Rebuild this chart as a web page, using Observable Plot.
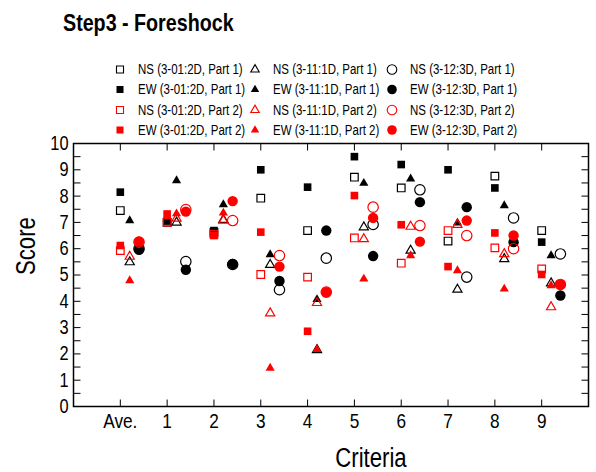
<!DOCTYPE html>
<html><head><meta charset="utf-8">
<script src="https://cdn.jsdelivr.net/npm/d3@7"></script>
<script src="https://cdn.jsdelivr.net/npm/@observablehq/plot@0.6"></script>
<style>body{margin:0;background:#fff} svg{display:block} #chart{width:596px}</style>
</head><body><div id="chart"></div>
<script>
// ---- data ----
const categories = ["Ave.", "1", "2", "3", "4", "5", "6", "7", "8", "9"];
const ns_301_p1 = [7.45, 7.00, 6.62, 7.92, 6.69, 8.72, 8.31, 6.29, 8.76, 6.69];
const ew_301_p1 = [8.15, 7.05, 6.69, 9.00, 8.34, 9.50, 9.20, 9.00, 8.31, 6.25];
const ns_301_p2 = [5.93, 7.00, 6.55, 5.02, 4.92, 6.41, 5.45, 6.69, 6.03, 5.23];
const ew_301_p2 = [6.12, 7.32, 6.50, 6.63, 2.86, 8.02, 6.91, 5.32, 6.60, 5.02];
const ns_311_p1 = [5.49, 7.00, 7.10, 5.39, 2.15, 6.82, 5.93, 4.45, 5.61, 4.69];
const ew_311_p1 = [7.07, 8.59, 7.68, 5.78, 4.07, 8.49, 8.66, 6.98, 7.64, 5.74];
const ns_311_p2 = [5.70, 7.15, 7.07, 3.55, 3.94, 6.37, 6.84, 6.91, 5.80, 3.78];
const ew_311_p2 = [4.79, 7.33, 7.36, 1.46, 2.17, 4.85, 5.74, 5.17, 4.47, 4.60];
const ns_312_p1 = [6.00, 5.51, 5.40, 4.44, 5.64, 6.92, 8.24, 4.92, 7.17, 5.80];
const ew_312_p1 = [5.96, 5.20, 5.42, 4.77, 6.69, 5.72, 7.77, 7.58, 6.25, 4.22];
const ns_312_p2 = [6.25, 7.49, 7.07, 5.74, 4.35, 7.58, 6.88, 6.50, 6.00, 4.64];
const ew_312_p2 = [6.27, 7.41, 7.81, 5.32, 4.35, 7.17, 6.27, 7.07, 6.50, 4.64];
const yTickLabels = [0, 1, 2, 3, 4, 5, 6, 7, 8, 9, 10];

const series = [
  {comp: "NS", model: "3-01:2D", part: 1, values: ns_301_p1},
  {comp: "EW", model: "3-01:2D", part: 1, values: ew_301_p1},
  {comp: "NS", model: "3-01:2D", part: 2, values: ns_301_p2},
  {comp: "EW", model: "3-01:2D", part: 2, values: ew_301_p2},
  {comp: "NS", model: "3-11:1D", part: 1, values: ns_311_p1},
  {comp: "EW", model: "3-11:1D", part: 1, values: ew_311_p1},
  {comp: "NS", model: "3-11:1D", part: 2, values: ns_311_p2},
  {comp: "EW", model: "3-11:1D", part: 2, values: ew_311_p2},
  {comp: "NS", model: "3-12:3D", part: 1, values: ns_312_p1},
  {comp: "EW", model: "3-12:3D", part: 1, values: ew_312_p1},
  {comp: "NS", model: "3-12:3D", part: 2, values: ns_312_p2},
  {comp: "EW", model: "3-12:3D", part: 2, values: ew_312_p2}
];

// ---- styles ----
const FONT = '"Liberation Sans Narrow", "Arial Narrow", "Liberation Sans", Arial, sans-serif';
const NARROW = 0.82; // horizontal condensing to mimic Arial Narrow
const symbolOf = {"3-01:2D": "square", "3-11:1D": "triangle", "3-12:3D": "circle"};
const rOf = {square: 4.3, triangle: 3.4, circle: 5.2};
const dxOf = {square: 0, triangle: 9.4, circle: 18.7};
const colorOf = {1: "black", 2: "red"};
const d3Sym = {square: d3.symbolSquare, triangle: d3.symbolTriangle, circle: d3.symbolCircle};

const lineSym = (ex, ey) => ({draw(ctx) { ctx.moveTo(0, 0); ctx.lineTo(ex, ey); }});
const TL = 7;

// ---- main plot ----
const dotMarks = series.map(s => {
  const sym = symbolOf[s.model], color = colorOf[s.part];
  const filled = s.comp === "EW";
  return Plot.dot(s.values.map((v, i) => ({i, v})), {
    x: "i", y: "v", symbol: sym, r: rOf[sym], dx: dxOf[sym],
    fill: filled ? color : "none", stroke: filled ? "none" : color, strokeWidth: 1.2
  });
});

const minorY = d3.range(0, 10.01, 0.5);
const catIdx = d3.range(categories.length);

const plot = Plot.plot({
  width: 596, height: 472,
  marginTop: 143, marginLeft: 73, marginRight: 8, marginBottom: 66,
  style: {fontFamily: FONT, fontSize: "20px", color: "black", background: "white"},
  x: {domain: [-1, 10], label: null},
  y: {domain: [0, 10], label: null},
  marks: [
    ...dotMarks,
    Plot.dot(minorY, {y: d => d, frameAnchor: "left", symbol: lineSym(TL, 0), stroke: "black", fill: "none", strokeWidth: 1}),
    Plot.dot(minorY, {y: d => d, frameAnchor: "right", symbol: lineSym(-TL, 0), stroke: "black", fill: "none", strokeWidth: 1}),
    Plot.dot(catIdx, {x: d => d, frameAnchor: "top", symbol: lineSym(0, TL), stroke: "black", fill: "none", strokeWidth: 1}),
    Plot.dot(catIdx, {x: d => d, frameAnchor: "bottom", symbol: lineSym(0, -TL), stroke: "black", fill: "none", strokeWidth: 1}),
    Plot.axisY(yTickLabels, {tickSize: 0, tickPadding: 5, fontSize: 20, label: null}),
    Plot.axisX(catIdx, {tickSize: 0, tickPadding: 7, fontSize: 21, tickFormat: i => categories[i], label: null}),
    Plot.text(["Criteria"], {frameAnchor: "bottom", dx: 40, dy: 60, lineAnchor: "bottom", fontSize: 27}),
    Plot.text(["Score"], {frameAnchor: "left", dx: -39, rotate: -90, lineAnchor: "bottom", fontSize: 27}),
    Plot.frame({stroke: "black", strokeWidth: 1.5})
  ]
});

// ---- title + legend, added in the top margin ----
const svg = d3.select(plot);
const header = svg.append("g").attr("font-family", FONT).attr("fill", "black")
  .attr("text-anchor", "start");
header.append("text").attr("x", 63).attr("y", 31)
  .attr("font-size", 24).attr("font-weight", "bold").text("Step3 - Foreshock");
const colX = [120, 255, 392], rowY = [69.5, 89.5, 110, 130];
series.forEach((s, k) => {
  const col = Math.floor(k / 4), row = k % 4;
  const sym = symbolOf[s.model], color = colorOf[s.part];
  const filled = s.comp === "EW";
  header.append("path")
    .attr("transform", `translate(${colX[col]},${rowY[row]})`)
    .attr("d", d3.symbol(d3Sym[sym], Math.PI * rOf[sym] ** 2 * 0.85)())
    .attr("fill", filled ? color : "none")
    .attr("stroke", filled ? "none" : color)
    .attr("stroke-width", 1.1);
  header.append("text").attr("x", colX[col] + 18).attr("y", rowY[row])
    .attr("dy", "0.35em").attr("font-size", 14)
    .text(`${s.comp} (${s.model}, Part ${s.part})`);
});

document.getElementById("chart").appendChild(plot);

// condense all text horizontally (no narrow font installed)
plot.querySelectorAll("text").forEach(t => {
  if (t.querySelector("tspan")) return;
  const w = t.getComputedTextLength();
  if (w > 0) {
    t.setAttribute("textLength", (w * NARROW).toFixed(2));
    t.setAttribute("lengthAdjust", "spacingAndGlyphs");
  }
});
</script>
</body></html>
